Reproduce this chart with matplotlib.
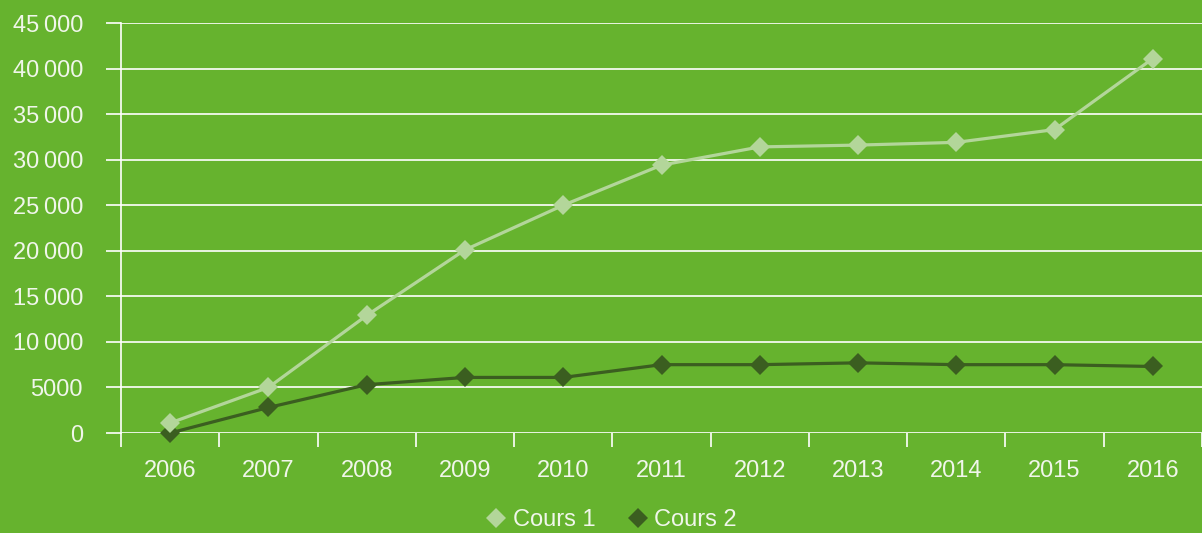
import matplotlib
matplotlib.use("Agg")
import matplotlib.pyplot as plt
from matplotlib.lines import Line2D
from matplotlib.ticker import FixedLocator, FuncFormatter

years = ["2006", "2007", "2008", "2009", "2010", "2011", "2012", "2013", "2014", "2015", "2016"]
cours1 = [1100, 5000, 12900, 20100, 25000, 29400, 31400, 31600, 31900, 33300, 41100]
cours2 = [0, 2800, 5300, 6100, 6100, 7500, 7500, 7700, 7500, 7500, 7300]
y_ticks = [0, 5000, 10000, 15000, 20000, 25000, 30000, 35000, 40000, 45000]

BG = "#66B32E"
C1 = "#B3D69A"
C2 = "#3B5E20"
TXT = "#F0F6EA"
FS = 17

plt.rcParams['font.family'] = ['Liberation Sans', 'DejaVu Sans']

fig = plt.figure(figsize=(12.02, 5.33), dpi=100, facecolor=BG)
ax = fig.add_axes([121/1202, 1 - 433/533, 1 - 121/1202, (433 - 23)/533])
ax.set_facecolor(BG)

x = list(range(len(years)))
ax.plot(x, cours2, color=C2, lw=2.3, marker='D', ms=10.5, mew=0, zorder=3, clip_on=False)
ax.plot(x, cours1, color=C1, lw=2.3, marker='D', ms=10.5, mew=0, zorder=4, clip_on=False)

ax.set_ylim(0, 45000)
ax.set_xlim(-0.5, 10.42)

def fmt(v, pos):
    v = int(round(v))
    if v >= 10000:
        s = f"{v:,}".replace(",", "\u2009")
    else:
        s = str(v)
    return s

ax.yaxis.set_major_locator(FixedLocator(y_ticks))
ax.yaxis.set_major_formatter(FuncFormatter(fmt))
ax.grid(axis='y', color='white', lw=1.2, zorder=1)
ax.set_axisbelow(True)

# x ticks at category boundaries, labels at centers
ax.set_xticks([i - 0.5 for i in range(len(years))] + [10.5])
ax.set_xticklabels([])
ax.set_xticks(x, minor=True)
ax.set_xticklabels(years, minor=True)
ax.tick_params(axis='x', which='major', length=10, width=1.2, color='white', direction='out')
ax.tick_params(axis='x', which='minor', length=0, pad=19.5, labelsize=FS, labelcolor=TXT)
ax.tick_params(axis='y', which='major', length=10.8, width=1.2, color='white', pad=16.5,
               labelsize=FS, labelcolor=TXT)

for s in ['top', 'right', 'bottom']:
    ax.spines[s].set_visible(False)
ax.spines['left'].set_color('white')
ax.spines['left'].set_linewidth(1.2)
ax.spines['left'].set_bounds(0, 45000)

handles = [Line2D([], [], ls='none', marker='D', ms=10.5, mew=0, color=C1),
           Line2D([], [], ls='none', marker='D', ms=10.5, mew=0, color=C2)]
leg = fig.legend(handles, ["Cours 1", "Cours 2"], loc='center', bbox_to_anchor=(612/1202, 1 - 520/533),
                 ncol=2, frameon=False, handlelength=0.8, handletextpad=0.3, columnspacing=1.4,
                 prop={'size': FS})
for t in leg.get_texts():
    t.set_color(TXT)

fig.savefig("out.png", dpi=100, facecolor=BG)
